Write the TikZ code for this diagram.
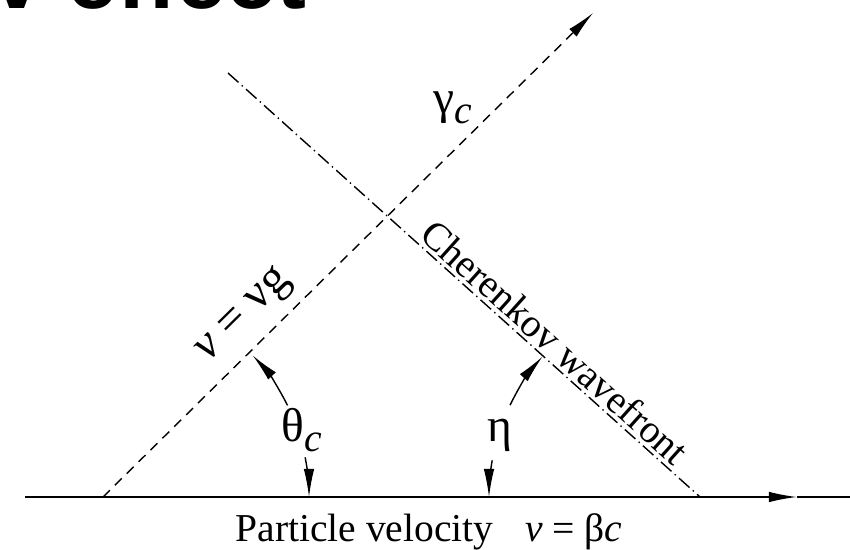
\documentclass[tikz,border=0pt]{standalone}
\usepackage{fontspec}
\setmainfont{Liberation Serif}
\newfontfamily\headfont{Liberation Sans}
\usepackage{tikz}
\usetikzlibrary{arrows.meta,calc}

\newcommand{\subc}{\raisebox{-0.45ex}{\fontsize{22.5}{26}\selectfont\itshape c}}

\begin{document}
\begin{tikzpicture}[
  line width=0.8pt,
  txt/.style={font=\fontsize{22.5}{26}\selectfont, inner sep=0pt},
  greek/.style={font=\fontsize{27}{30}\selectfont, inner sep=0pt},
  ray/.style={dash pattern=on 5.5pt off 4pt},
  front/.style={dash pattern=on 8pt off 2.5pt on 0.8pt off 2.5pt},
  tipL/.style={-{Latex[length=16pt,width=6pt]}}
]
\useasboundingbox (0,0) rectangle (17,11);
\clip (0,0) rectangle (17,11);
% slide title, cut off by the frame
\node[anchor=base west, inner sep=0pt, font=\headfont\bfseries\fontsize{51}{56}\selectfont] (title) at (-0.16,10.82) {v effect};

\coordinate (start) at (0.5,1.06);
\coordinate (vtx) at (2.06,1.06);
\coordinate (head) at (15.94,1.06);
\coordinate (end) at (17,1.06);
\coordinate (gamma) at (11.86,10.74);
\coordinate (frtop) at (4.56,9.54);
\coordinate (frbot) at (14.0,1.06);

% particle axis
\draw[tipL, line width=0.9pt] (start) -- (head);
\draw[line width=0.9pt] (head) -- (end);
\node[txt, anchor=base] (vel) at (8.58,0.16) {Particle velocity\hspace{0.8em}\textit{v} = β\textit{c}};

% emitted light and wavefront
\draw[ray, tipL] (vtx) -- (gamma)
  node[pos=0.33, sloped, above=6pt, greek] (vg) {\textit{v} = νg};
\draw[front] (frtop) -- (frbot)
  node[pos=0.667, sloped, above=2pt, txt] (cw) {Cherenkov wavefront};
\node[greek] (gmc) at (9.06,8.84) {γ\subc};

% angles
\node[greek] (thc) at (6.04,2.40) {θ\subc};
\draw[tipL] ($(vtx)+(26.4:4.12)$) arc[start angle=26.4, end angle=43.4, radius=4.12];
\draw[tipL] ($(vtx)+(11.1:4.12)$) arc[start angle=11.1, end angle=0, radius=4.12];
\node[greek] (eta) at (10.0,2.30) {η};
\draw[tipL] ($(frbot)+(154.2:4.22)$) arc[start angle=154.2, end angle=138.3, radius=4.22];
\draw[tipL] ($(frbot)+(170:4.22)$) arc[start angle=170, end angle=180, radius=4.22];
\end{tikzpicture}
\end{document}
